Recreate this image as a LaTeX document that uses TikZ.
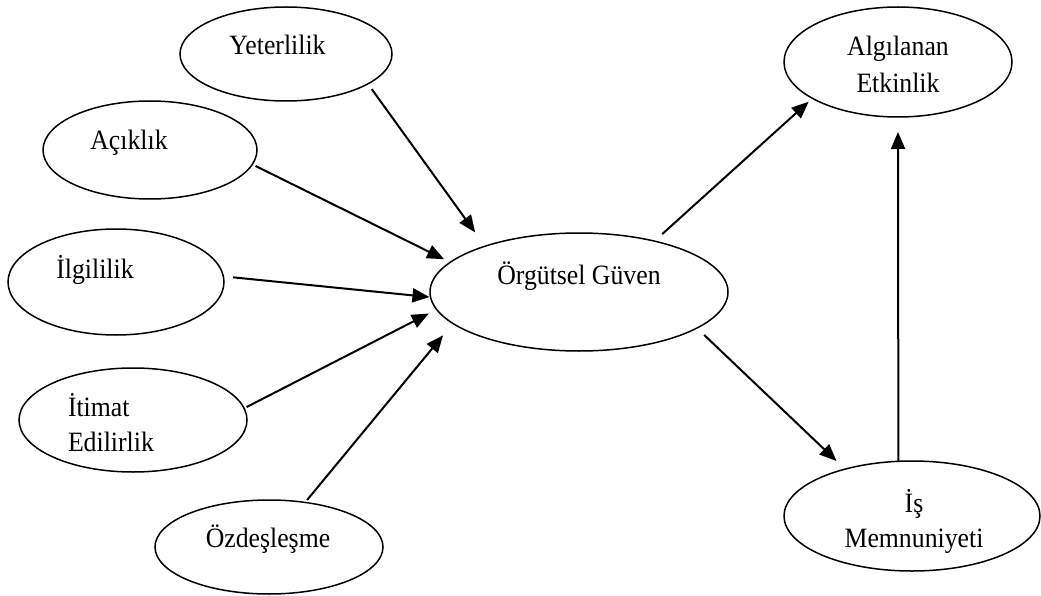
\documentclass[tikz,border=0pt]{standalone}
\usepackage{fontspec}
\setmainfont{Liberation Serif}[FakeStretch=0.92]
\usetikzlibrary{shapes.geometric,arrows.meta}
\begin{document}
\begin{tikzpicture}[x=1pt,y=-1pt,
  oval/.style={draw, ellipse, line width=1.5pt, inner sep=0pt, outer sep=0pt},
  lbl/.style={font=\fontsize{28}{35}\selectfont, inner sep=0pt, outer sep=0pt, text height=19.6pt, text depth=5.6pt},
  lblw/.style={lbl, text width=100pt, align=left},
  arr/.style={line width=2pt, -{Triangle[length=17pt,width=14pt]}}
]
\useasboundingbox (0,0) rectangle (1041,596);

\node[oval, minimum width=212pt, minimum height=94pt,
  label={[lbl, xshift=-8.5pt, yshift=6pt]center:Yeterlilik}] (yet) at (286,54) {};
\node[oval, minimum width=214pt, minimum height=98pt,
  label={[lbl, xshift=-21pt, yshift=7pt]center:Açıklık}] (aci) at (150,150) {};
\node[oval, minimum width=216pt, minimum height=106pt,
  label={[lbl, xshift=-21pt, yshift=11pt]center:İlgililik}] (ilg) at (116,282) {};
\node[oval, minimum width=228pt, minimum height=104pt,
  label={[lblw, xshift=-15pt, yshift=11pt]center:İtimat},
  label={[lblw, xshift=-15pt, yshift=-24.5pt]center:Edilirlik}] (iti) at (133,420) {};
\node[oval, minimum width=228pt, minimum height=94pt,
  label={[lbl, xshift=-1pt, yshift=7pt]center:Özdeşleşme}] (ozd) at (269,547) {};
\node[oval, minimum width=298pt, minimum height=118pt,
  label={[lbl, yshift=14.5pt]center:Örgütsel Güven}] (org) at (579,292) {};
\node[oval, minimum width=228pt, minimum height=110pt,
  label={[lbl, yshift=13pt]center:Algılanan},
  label={[lbl, yshift=-23.5pt]center:Etkinlik}] (alg) at (898,62) {};
\node[oval, minimum width=256pt, minimum height=110pt,
  label={[lbl, xshift=2pt, yshift=11pt]center:İş},
  label={[lbl, xshift=2pt, yshift=-24pt]center:Memnuniyeti}] (ism) at (912,516) {};

\draw[arr, shorten <=6.5pt, shorten >=17pt] (yet.-20.9) -- (org.154.8);
\draw[arr, shorten <=3.7pt, shorten >=6.9pt] (aci.-8.6) -- (org.167.4);
\draw[arr, shorten <=9.8pt, shorten >=1.1pt] (ilg.3.2) -- (org.182.4);
\draw[arr, shorten <=2.8pt, shorten >=8.9pt] (iti.6.6) -- (org.187.7);
\draw[arr, shorten <=3.1pt, shorten >=15.5pt] (ozd.51.1) -- (org.194.4);
\draw[arr, shorten <=10.5pt, shorten >=5.1pt] (org.34.1) -- (alg.203.2);
\draw[arr, shorten <=10pt, shorten >=11.8pt] (org.-17) -- (ism.145.2);
\draw[arr, shorten >=15pt] (ism.104.4) -- (alg.south);
\end{tikzpicture}
\end{document}
